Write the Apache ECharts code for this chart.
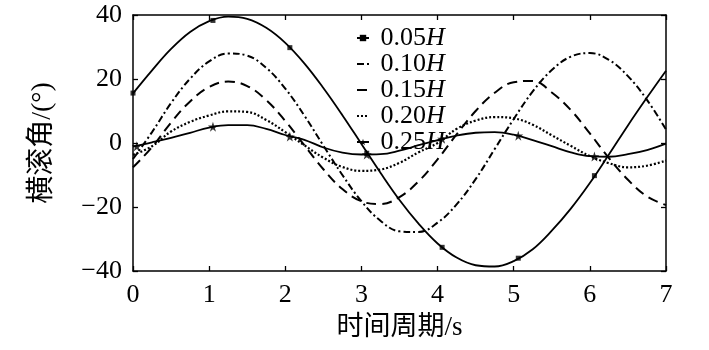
<!DOCTYPE html>
<html>
<head>
<meta charset="utf-8">
<script src="https://cdn.jsdelivr.net/npm/echarts/dist/echarts.min.js"></script>
<style>
  html, body { margin: 0; padding: 0; background: #fff; }
  #chart { width: 709px; height: 350px; }
</style>
</head>
<body>
<div id="chart"></div>
<script>
// time axis (s)
const times = [0, 0.25, 0.5, 0.75, 1, 1.25, 1.5, 1.75, 2, 2.25, 2.5, 2.75, 3, 3.25, 3.5, 3.75,
  4, 4.25, 4.5, 4.75, 5, 5.25, 5.5, 5.75, 6, 6.25, 6.5, 6.75, 7];

// roll angle (deg) for each wave height
const roll005 = [15.5, 22.7, 29.4, 34.7, 38.1, 39.5, 38.8, 36.0, 31.3, 24.9, 17.2, 8.7, -0.3, -9.3, -17.8, -25.2,
  -31.4, -35.8, -38.2, -38.6, -36.9, -33.2, -27.4, -20.5, -12.5, -3.6, 5.5, 14.2, 22.6];
const roll010 = [-5.0, 3.4, 12.5, 20.1, 25.5, 28.0, 27.3, 23.5, 17.0, 8.6, -0.8, -10.0, -18.2, -24.3, -27.6, -27.8,
  -24.9, -19.2, -11.3, -1.9, 7.5, 16.1, 22.8, 27.0, 28.1, 26.0, 20.9, 13.5, 4.2];
const roll015 = [-7.6, -1.3, 6.4, 13.0, 17.5, 19.2, 17.8, 13.4, 6.9, -0.7, -8.2, -14.4, -18.2, -19.1, -16.9, -12.0,
  -5.1, 2.7, 10.0, 15.7, 19.0, 19.4, 15.8, 10.3, 3.0, -4.7, -11.5, -16.7, -19.4];
const roll020 = [-3.7, -1.0, 3.6, 6.6, 8.6, 9.9, 9.7, 7.2, 3.4, -0.7, -4.6, -7.5, -8.7, -8.3, -6.2, -2.9,
  0.0, 4.4, 7.0, 8.1, 7.7, 5.7, 2.4, -0.9, -4.1, -6.3, -7.6, -7.1, -5.5];
const roll025 = [-1.1, 0.2, 1.6, 3.2, 4.8, 5.6, 5.6, 4.4, 2.5, 1.0, -1.4, -3.0, -3.6, -3.5, -2.4, -0.7,
  0.9, 2.3, 3.2, 3.4, 2.6, 0.9, -1.0, -2.9, -4.1, -4.3, -3.5, -2.2, -0.2];

// sampled marker points
const marks005 = [[0, 15.6], [1.05, 38.3], [2.06, 29.8], [3.07, -3.2], [4.06, -32.6], [5.06, -36.0], [6.06, -10.2]];
const marks025 = [[0.05, -1.0], [1.05, 5.1], [2.06, 2.0], [3.07, -3.6], [4.06, 1.3], [5.06, 2.3], [6.06, -4.2]];

const names = ['0.05H', '0.10H', '0.15H', '0.20H', '0.25H'];
const xTicks = { min: 0, max: 7, step: 1 };
const yTicks = { min: -40, max: 40, step: 20 };

const serif = 'Liberation Serif, Noto Sans CJK SC';
const star = 'path://M50,0 L61,35 L98,35 L68,57 L79,91 L50,70 L21,91 L32,57 L2,35 L39,35 Z';

const pair = (ys) => times.map((t, i) => [t, ys[i]]);

const chart = echarts.init(document.getElementById('chart'));

const axisCommon = {
  axisLine: { show: true, onZero: false, lineStyle: { color: '#000', width: 1.5 } },
  axisTick: { show: true, inside: true, length: 5, lineStyle: { color: '#000', width: 1.3 } },
  splitLine: { show: false },
};

function lineSeries(name, ys, dash, width, symbol) {
  return {
    name: name,
    type: 'line',
    data: pair(ys),
    smooth: 0.4,
    symbol: symbol || 'circle',
    showSymbol: false,
    color: '#000',
    lineStyle: { color: '#000', width: width, type: dash },
    z: 3,
  };
}

const option = {
  animation: false,
  grid: { left: 133, right: 43, top: 15, bottom: 79, outerBoundsMode: 'none' },
  legend: {
    orient: 'vertical',
    left: 356,
    top: 25,
    padding: 0,
    itemGap: 0,
    itemWidth: 12,
    itemHeight: 8,
    data: [
      { name: names[0] },
      { name: names[1], itemStyle: { opacity: 0 } },
      { name: names[2], itemStyle: { opacity: 0 } },
      { name: names[3], itemStyle: { opacity: 0 } },
      { name: names[4] },
    ],
    formatter: (n) => ' ' + n.replace('H', '') + '{i|H}',
    textStyle: {
      fontFamily: serif, fontSize: 26, color: '#000', lineHeight: 21,
      rich: { i: { fontFamily: serif, fontSize: 26, fontStyle: 'italic', color: '#000', lineHeight: 21 } },
    },
  },
  xAxis: [
    Object.assign({
      type: 'value', min: xTicks.min, max: xTicks.max, interval: xTicks.step, position: 'bottom',
      name: '时间周期/s', nameLocation: 'middle', nameGap: 43,
      nameTextStyle: { fontFamily: serif, fontSize: 27, color: '#000' },
      axisLabel: { fontFamily: serif, fontSize: 26, color: '#000', margin: 11 },
    }, axisCommon),
    Object.assign({
      type: 'value', min: xTicks.min, max: xTicks.max, interval: xTicks.step, position: 'top',
      axisLabel: { show: false },
    }, axisCommon),
  ],
  yAxis: [
    Object.assign({
      type: 'value', min: yTicks.min, max: yTicks.max, interval: yTicks.step, position: 'left',
      name: '横滚角/(°)', nameLocation: 'middle', nameGap: 76,
      nameTextStyle: { fontFamily: serif, fontSize: 28, color: '#000' },
      axisLabel: {
        fontFamily: serif, fontSize: 26, color: '#000', margin: 11,
        formatter: (v) => (v < 0 ? '\u2212' + Math.abs(v) : String(v)),
      },
    }, axisCommon),
    Object.assign({
      type: 'value', min: yTicks.min, max: yTicks.max, interval: yTicks.step, position: 'right',
      axisLabel: { show: false },
    }, axisCommon),
  ],
  series: [
    lineSeries(names[0], roll005, 'solid', 1.8, 'rect'),
    lineSeries(names[1], roll010, [7, 3, 2, 3], 2),
    lineSeries(names[2], roll015, [10, 6], 2),
    lineSeries(names[3], roll020, [2, 2], 2.2),
    lineSeries(names[4], roll025, 'solid', 1.8, star),
    {
      name: 'marks005', type: 'scatter', data: marks005, symbol: 'rect', symbolSize: 5,
      itemStyle: { color: '#000' }, z: 4,
    },
    {
      name: 'marks025', type: 'scatter', data: marks025, symbol: star, symbolSize: 10,
      itemStyle: { color: '#000' }, z: 4,
    },
  ],
};

chart.setOption(option);
</script>
</body>
</html>
